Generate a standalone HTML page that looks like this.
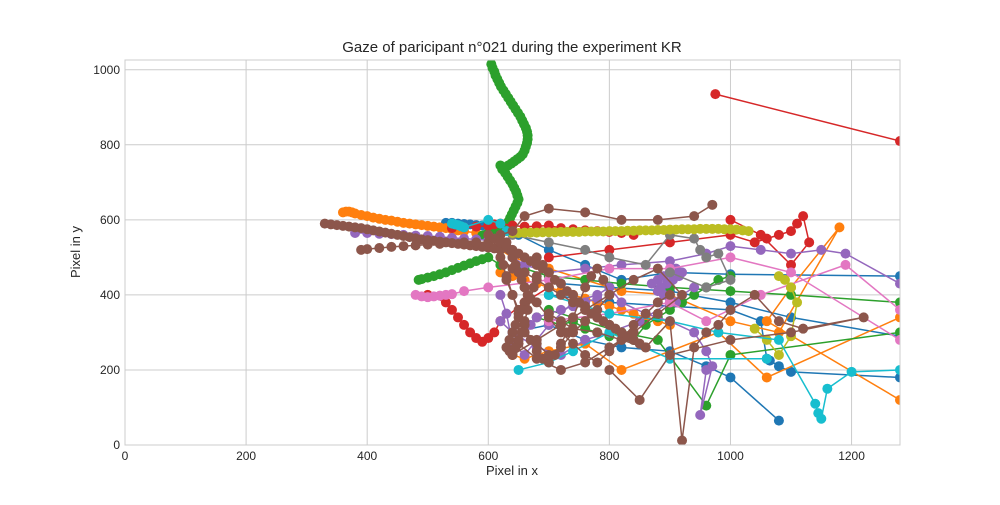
<!DOCTYPE html>
<html><head><meta charset="utf-8"><style>
body{margin:0;background:#fff;font-family:"Liberation Sans","DejaVu Sans",sans-serif}
svg text{font-family:"Liberation Sans","DejaVu Sans",sans-serif;fill:#262626}
</style></head><body>
<svg id="chart" width="1000" height="500" viewBox="0 0 1000 500" xmlns="http://www.w3.org/2000/svg">
<rect width="1000" height="500" fill="#fff"/>
<g id="grid"></g>
<g id="series"></g>
<rect x="125" y="60" width="775" height="385" fill="none" stroke="#ccc" stroke-width="1"/>
<g id="ticks"></g>
<text x="512" y="52" font-size="15" text-anchor="middle">Gaze of paricipant n°021 during the experiment KR</text>
<text x="512" y="475" font-size="13" text-anchor="middle">Pixel in x</text>
<text x="80" y="252" font-size="13" text-anchor="middle" transform="rotate(-90 80 252)">Pixel in y</text>
</svg>
<script>
const xTicks=[0,200,400,600,800,1000,1200];
const yTicks=[0,200,400,600,800,1000];
const seriesColors=["#1f77b4","#ff7f0e","#2ca02c","#d62728","#9467bd","#8c564b","#e377c2","#7f7f7f","#bcbd22","#17becf"];
const blueX1=[530,540,550,560,570,580,590,600,620,650,700,760,820,900,1000,1280];
const blueY1=[592,592,590,589,588,586,585,583,575,560,520,480,440,460,455,450];
const blueX2=[700,800,900,1000,1050,1060,1065,1080,1100,1280];
const blueY2=[400,380,370,360,330,230,225,210,195,180];
const blueX3=[640,700,760,820,900,960,1000,1080];
const blueY3=[300,320,280,260,250,210,180,65];
const blueX4=[720,800,900,1000,1100,1280];
const blueY4=[430,420,410,380,340,290];
const orangeX1=[360,365,370,375,380,390,400,410,420,430,440,450,460,470,480,490,500,510,520,530,540,550,560,580,600];
const orangeY1=[620,622,622,620,617,613,610,606,603,600,598,595,592,590,588,586,584,582,580,578,575,572,570,565,560];
const orangeX2=[600,640,680,700,760,820,900,1000,1080,1180,1100,1060,1280];
const orangeY2=[540,500,480,470,440,410,400,330,300,580,420,330,120];
const orangeX3=[640,660,700,760,820,980,1060,1280];
const orangeY3=[240,230,250,270,200,300,180,340];
const orangeX4=[620,640,660,680,700,720,740,760,780,800,820,840,860,880,900];
const orangeY4=[460,450,440,430,420,410,400,390,380,370,360,350,340,330,320];
const greenX1=[605,607,610,612,615,618,621,625,629,633,637,641,645,649,653,656,659,662,664,665,665,664,662,660,657,653,648,643,638,633,628,623,620,624,628,632,636,640,643,646,648,650,648,645,642,639,636,633,630,626,622,618,614,610,605,600,595,590];
const greenY1=[1015,1005,995,985,975,965,955,945,935,925,915,905,895,885,875,865,855,845,835,825,815,805,795,785,775,768,762,756,750,745,740,735,745,735,725,715,705,695,685,675,665,655,645,635,625,615,605,595,585,580,575,572,570,568,565,562,560,558];
const greenX2=[485,490,500,510,520,530,540,550,560,570,580,590,600,620,660,700,760,820,900,1000,1100,1280];
const greenY2=[440,442,446,450,455,460,466,472,478,484,490,495,500,480,470,450,440,430,420,410,400,380];
const greenX3=[700,760,820,880,960,1000,1280];
const greenY3=[360,330,300,280,105,240,300];
const greenX4=[680,700,720,740,760,780,800,820,840,860,880,900,920,940,960,980,1000];
const greenY4=[340,330,320,330,310,300,290,300,280,320,340,360,380,400,420,440,450];
const redX1=[540,560,580,600,610,620,640,660,680,700,720,740,760,780,800,820,840];
const redY1=[578,580,582,584,588,590,585,582,583,585,578,575,572,570,568,565,560];
const redX2=[500,530,540,550,560,570,580,590,600,610,620,660,700];
const redY2=[400,380,360,340,320,300,285,275,285,300,330,380,420];
const redX3=[975,1280];
const redY3=[935,810];
const redX4=[700,800,900,1000,1040,1060,1080,1100,1110,1120,1130,1100,1050,1000];
const redY4=[500,520,540,560,540,550,560,570,590,610,540,480,560,600];
const purpleX1=[380,400,420,440,460,480,500,520,540,560,580,600,620];
const purpleY1=[565,565,563,562,560,558,557,555,552,550,548,546,545];
const purpleX2=[640,660,700,760,820,900,960,1000,1050,1100,1150,1190,1280];
const purpleY2=[500,480,460,470,480,490,510,530,520,510,520,510,430];
const purpleX3=[620,630,640,660,700,740,780,800,820,860,900,940,960,970,950,960];
const purpleY3=[400,350,270,240,320,380,400,420,380,350,330,300,250,210,80,200];
const purpleX4=[620,640,680,720,760,800,850,900,940];
const purpleY4=[330,300,260,240,280,300,330,380,420];
const purpleX5=[870,880,890,900,910,920,915,905,895,885,880,890,900,910];
const purpleY5=[430,440,450,460,470,460,450,440,430,420,410,400,390,380];
const purpleX6=[640,650,660,670,680,700,720,740,760,780];
const purpleY6=[260,280,300,320,340,350,360,370,380,390];
const brownX1=[330,340,350,360,370,380,390,400,410,420,430,440,450,460,470,480,490,500,510,520,530,540,550,560,570,580,590,600,610];
const brownY1=[590,588,586,584,582,580,578,575,572,569,566,563,560,557,554,551,548,546,544,542,540,538,536,534,532,530,528,526,524];
const brownX2=[390,400,420,440,460,480,500,520,540,560,580,600,620];
const brownY2=[520,522,525,528,530,532,534,536,538,540,540,540,538];
const brownX3=[620,625,630,640,650,660,670,680,690,700,710,720,730,740,750,760,770,780,790,800,780,760,740,720,700,680,660,650,640,630,620,640,660,680,700,720,740,760,780,800,820,840,860,880,900];
const brownY3=[520,480,440,400,360,320,280,250,230,220,240,270,300,340,380,420,450,470,440,400,360,330,300,260,240,270,300,350,400,450,500,470,420,380,340,300,270,240,220,250,280,320,350,380,400];
const brownX4=[640,680,720,760,800,840,880,920,880,840,800,760,720,680,650];
const brownY4=[240,280,320,360,400,440,470,400,350,300,260,220,200,230,270];
const brownX5=[700,720,740,780,820,860,900,920,940,960,980,1000,1040,1080,1120,1220,1100,1000,900,850,800];
const brownY5=[350,330,310,300,280,260,330,12,260,300,320,360,400,330,310,340,300,280,240,120,200];
const brownX6=[620,640,660,700,760,820,880,940,970];
const brownY6=[560,570,610,630,620,600,600,610,640];
const brownX7=[660,680,700,720,740,760,780,800,820,840,860];
const brownY7=[460,440,420,400,380,360,340,320,300,280,260];
const brownX8=[630,635,640,645,650,655,660,665,660,655,650,645,640,635,630,635,640,645,650,655,660,665,670,675,680];
const brownY8=[540,520,500,480,460,440,420,400,380,360,340,320,300,280,260,250,240,260,280,300,330,360,390,420,450];
const brownX9=[680,690,700,710,720,730,740,750,760,770,780,790,800,810,820,830,840,850];
const brownY9=[500,480,460,440,430,410,400,380,370,350,340,330,320,310,300,290,280,270];
const brownX10=[600,610,620,630,640,650,660,670,680,690,700];
const brownY10=[560,550,540,530,520,510,500,490,480,470,460];
const pinkX1=[480,490,500,510,520,530,540,560,600,700,800,900,1000,1100,1280];
const pinkY1=[400,396,394,396,398,400,402,410,420,440,470,470,500,460,280];
const pinkX2=[700,800,900,960,1050,1190,1280];
const pinkY2=[330,350,380,330,400,480,360];
const grayX1=[640,700,760,800,860,900,940,950,960,980,1000,960,900];
const grayY1=[560,540,520,500,480,560,550,520,500,510,440,420,460];
const oliveX1=[640,650,660,670,680,690,700,710,720,730,740,750,760,770,780,790,800,810,820,830,840,850,860,870,880,890,900,910,920,930,940,950,960,970,980,990,1000,1010,1020,1030];
const oliveY1=[565,565,566,566,566,567,567,567,568,568,568,568,569,569,569,569,570,570,570,571,571,572,572,572,573,573,574,574,575,575,575,576,576,576,576,575,575,574,572,570];
const oliveX2=[1080,1090,1100,1110,1100,1080,1060,1040];
const oliveY2=[450,440,420,380,290,240,280,310];
const cyanX1=[540,545,550,555,560,600,620,630];
const cyanY1=[590,588,586,583,580,600,590,570];
const cyanX2=[700,800,900,980,1080,1140,1145,1150,1160,1200,1280];
const cyanY2=[400,350,330,300,280,110,85,70,150,195,200];
const cyanX3=[650,700,740,800,900,1060];
const cyanY3=[200,220,250,300,230,230];
const allX=[blueX1,blueX2,blueX3,blueX4,orangeX1,orangeX2,orangeX3,orangeX4,greenX1,greenX2,greenX3,greenX4,redX1,redX2,redX3,redX4,purpleX1,purpleX2,purpleX3,purpleX4,purpleX5,purpleX6,pinkX1,pinkX2,grayX1,oliveX1,oliveX2,cyanX1,cyanX2,cyanX3,brownX1,brownX2,brownX3,brownX4,brownX5,brownX6,brownX7,brownX8,brownX9,brownX10];
const allY=[blueY1,blueY2,blueY3,blueY4,orangeY1,orangeY2,orangeY3,orangeY4,greenY1,greenY2,greenY3,greenY4,redY1,redY2,redY3,redY4,purpleY1,purpleY2,purpleY3,purpleY4,purpleY5,purpleY6,pinkY1,pinkY2,grayY1,oliveY1,oliveY2,cyanY1,cyanY2,cyanY3,brownY1,brownY2,brownY3,brownY4,brownY5,brownY6,brownY7,brownY8,brownY9,brownY10];
const allC=[0,0,0,0,1,1,1,1,2,2,2,2,3,3,3,3,4,4,4,4,4,4,6,6,7,8,8,9,9,9,5,5,5,5,5,5,5,5,5,5];

const NS="http://www.w3.org/2000/svg";
const X0=125,X1=900,Y0=445,Y1=60;
function sx(v){return X0+v*(X1-X0)/1280;}
function sy(v){return Y0-v*(Y0-Y1)/1026;}
const grid=document.getElementById('grid'),ticks=document.getElementById('ticks'),ser=document.getElementById('series');
xTicks.forEach(t=>{
 const l=document.createElementNS(NS,'line');
 l.setAttribute('x1',sx(t));l.setAttribute('x2',sx(t));l.setAttribute('y1',Y1);l.setAttribute('y2',Y0);
 l.setAttribute('stroke','#ccc');
 
 
 grid.appendChild(l);
 const tx=document.createElementNS(NS,'text');
 tx.setAttribute('x',sx(t));tx.setAttribute('y',460);tx.setAttribute('font-size','12');tx.setAttribute('text-anchor','middle');
 tx.textContent=t;
 
 
 ticks.appendChild(tx);
});
yTicks.forEach(t=>{
 const l=document.createElementNS(NS,'line');
 l.setAttribute('x1',X0);l.setAttribute('x2',X1);l.setAttribute('y1',sy(t));l.setAttribute('y2',sy(t));
 l.setAttribute('stroke','#ccc');
 
 
 grid.appendChild(l);
 const tx=document.createElementNS(NS,'text');
 tx.setAttribute('x',120);tx.setAttribute('y',sy(t)+4);tx.setAttribute('font-size','12');tx.setAttribute('text-anchor','end');
 tx.textContent=t;
 
 
 ticks.appendChild(tx);
});
const clip=document.createElementNS(NS,'clipPath');clip.setAttribute('id','pc');
const cr=document.createElementNS(NS,'rect');cr.setAttribute('x',X0);cr.setAttribute('y',Y1);cr.setAttribute('width',X1-X0);cr.setAttribute('height',Y0-Y1);
clip.appendChild(cr);document.getElementById('chart').appendChild(clip);
ser.setAttribute('clip-path','url(#pc)');
allX.forEach((xs,i)=>{
 const ys=allY[i],c=seriesColors[allC[i]];
 const g=document.createElementNS(NS,'g');
 
 
 const p=document.createElementNS(NS,'polyline');
 p.setAttribute('points',xs.map((x,j)=>sx(x)+','+sy(ys[j])).join(' '));
 p.setAttribute('fill','none');p.setAttribute('stroke',c);p.setAttribute('stroke-width','1.5');
 
 
 g.appendChild(p);
 xs.forEach((x,j)=>{
  const m=document.createElementNS(NS,'circle');
  m.setAttribute('cx',sx(x));m.setAttribute('cy',sy(ys[j]));m.setAttribute('r','5');m.setAttribute('fill',c);
  
  
  g.appendChild(m);
 });
 ser.appendChild(g);
});
</script>
</body></html>
